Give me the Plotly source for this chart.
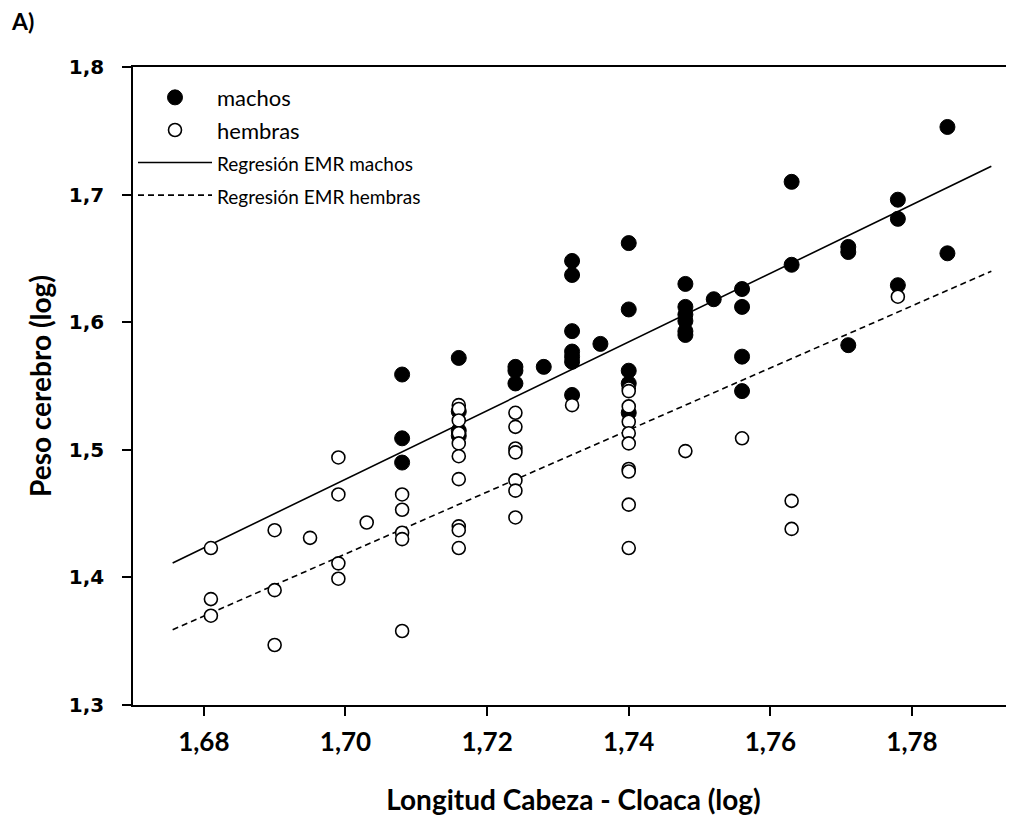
import plotly.graph_objects as go

# ---- data ----
machos_x = [1.708, 1.708, 1.708,
            1.716, 1.716, 1.716, 1.716,
            1.724, 1.724, 1.724,
            1.728,
            1.732, 1.732, 1.732, 1.732, 1.732, 1.732, 1.732,
            1.736,
            1.740, 1.740, 1.740, 1.740, 1.740,
            1.748, 1.748, 1.748, 1.748, 1.748, 1.748,
            1.752,
            1.756, 1.756, 1.756, 1.756,
            1.763, 1.763,
            1.771, 1.771, 1.771,
            1.778, 1.778, 1.778,
            1.785, 1.785]
machos_y = [1.559, 1.509, 1.490,
            1.572, 1.530, 1.515, 1.511,
            1.565, 1.562, 1.552,
            1.565,
            1.648, 1.637, 1.593, 1.577, 1.573, 1.569, 1.543,
            1.583,
            1.662, 1.610, 1.562, 1.552, 1.529,
            1.630, 1.612, 1.606, 1.601, 1.593, 1.590,
            1.618,
            1.626, 1.612, 1.573, 1.546,
            1.710, 1.645,
            1.659, 1.655, 1.582,
            1.696, 1.681, 1.629,
            1.753, 1.654]

hembras_x = [1.681, 1.681, 1.681,
             1.690, 1.690, 1.690,
             1.695,
             1.699, 1.699, 1.699, 1.699,
             1.703,
             1.708, 1.708, 1.708, 1.708, 1.708,
             1.716, 1.716, 1.716, 1.716, 1.716, 1.716, 1.716, 1.716, 1.716, 1.716,
             1.724, 1.724, 1.724, 1.724, 1.724, 1.724, 1.724,
             1.732,
             1.740, 1.740, 1.740, 1.740, 1.740, 1.740, 1.740, 1.740, 1.740, 1.740,
             1.748,
             1.756,
             1.763, 1.763,
             1.778]
hembras_y = [1.423, 1.383, 1.370,
             1.437, 1.390, 1.347,
             1.431,
             1.494, 1.465, 1.411, 1.399,
             1.443,
             1.465, 1.453, 1.435, 1.430, 1.358,
             1.535, 1.532, 1.523, 1.513, 1.505, 1.495, 1.477, 1.440, 1.437, 1.423,
             1.529, 1.518, 1.501, 1.498, 1.476, 1.468, 1.447,
             1.535,
             1.548, 1.546, 1.534, 1.522, 1.513, 1.505, 1.485, 1.483, 1.457, 1.423,
             1.499,
             1.509,
             1.460, 1.438,
             1.620]

reg_x = [1.6756, 1.7912]
reg_machos_y = [1.4113, 1.7222]
reg_hembras_y = [1.359, 1.640]

x_ticks = [1.68, 1.70, 1.72, 1.74, 1.76, 1.78]
x_ticklabels = ["1,68", "1,70", "1,72", "1,74", "1,76", "1,78"]
y_ticks = [1.3, 1.4, 1.5, 1.6, 1.7, 1.8]
y_ticklabels = ["1,3", "1,4", "1,5", "1,6", "1,7", "1,8"]

fig = go.Figure()

fig.add_trace(go.Scatter(
    x=reg_x, y=reg_machos_y, mode="lines",
    name="<span style='font-size:19px'>Regresión EMR machos</span>",
    line=dict(color="black", width=1.6), legendrank=3, legendgroup="c"))
fig.add_trace(go.Scatter(
    x=reg_x, y=reg_hembras_y, mode="lines",
    name="<span style='font-size:19px'>Regresión EMR hembras</span>",
    line=dict(color="black", width=1.6, dash="6px,4px"), legendrank=4, legendgroup="d"))
fig.add_trace(go.Scatter(
    x=machos_x, y=machos_y, mode="markers", name="machos",
    marker=dict(symbol="circle", size=15, color="black",
                line=dict(color="black", width=1)),
    legendrank=1, legendgroup="a"))
fig.add_trace(go.Scatter(
    x=hembras_x, y=hembras_y, mode="markers", name="hembras",
    marker=dict(symbol="circle", size=13, color="white",
                line=dict(color="black", width=1.6)),
    legendrank=2, legendgroup="b"))

fig.update_layout(
    width=1014, height=825,
    margin=dict(l=125, r=6, t=59, b=128),
    paper_bgcolor="white", plot_bgcolor="white",
    showlegend=True,
    legend=dict(x=0.0, y=0.985, xanchor="left", yanchor="top",
                font=dict(family="Lato", size=22, color="black"),
                bgcolor="rgba(0,0,0,0)", itemwidth=74,
                traceorder="grouped", tracegroupgap=1),
    xaxis=dict(range=[1.670, 1.7944], tickmode="array",
               tickvals=x_ticks, ticktext=x_ticklabels,
               ticks="outside", ticklen=9, tickwidth=1.5, tickcolor="black",
               showline=True, linecolor="black", linewidth=1.5, mirror=True,
               showgrid=False, zeroline=False,
               ticklabelstandoff=4,
               tickfont=dict(family="Lato", size=26, color="black", weight="bold"),
               title=dict(text="<b>Longitud Cabeza - Cloaca (log)</b>",
                          font=dict(family="Lato", size=28, color="black"),
                          standoff=34)),
    yaxis=dict(range=[1.3, 1.8], tickmode="array",
               tickvals=y_ticks, ticktext=y_ticklabels,
               ticks="outside", ticklen=9, tickwidth=1.5, tickcolor="black",
               showline=True, linecolor="black", linewidth=1.5, mirror=True,
               showgrid=False, zeroline=False,
               ticklabelstandoff=14,
               tickfont=dict(family="DejaVu Sans", size=20, color="black", weight="bold"),
               title=dict(text="<b>Peso cerebro (log)</b>",
                          font=dict(family="Lato", size=28, color="black"),
                          standoff=9)),
    annotations=[dict(text="<b>A)</b>", x=0, y=1, xref="paper", yref="paper",
                      xanchor="left", yanchor="top", xshift=-124, yshift=62,
                      showarrow=False,
                      font=dict(family="Lato", size=23, color="black"))],
)

fig.write_html("out.html")
